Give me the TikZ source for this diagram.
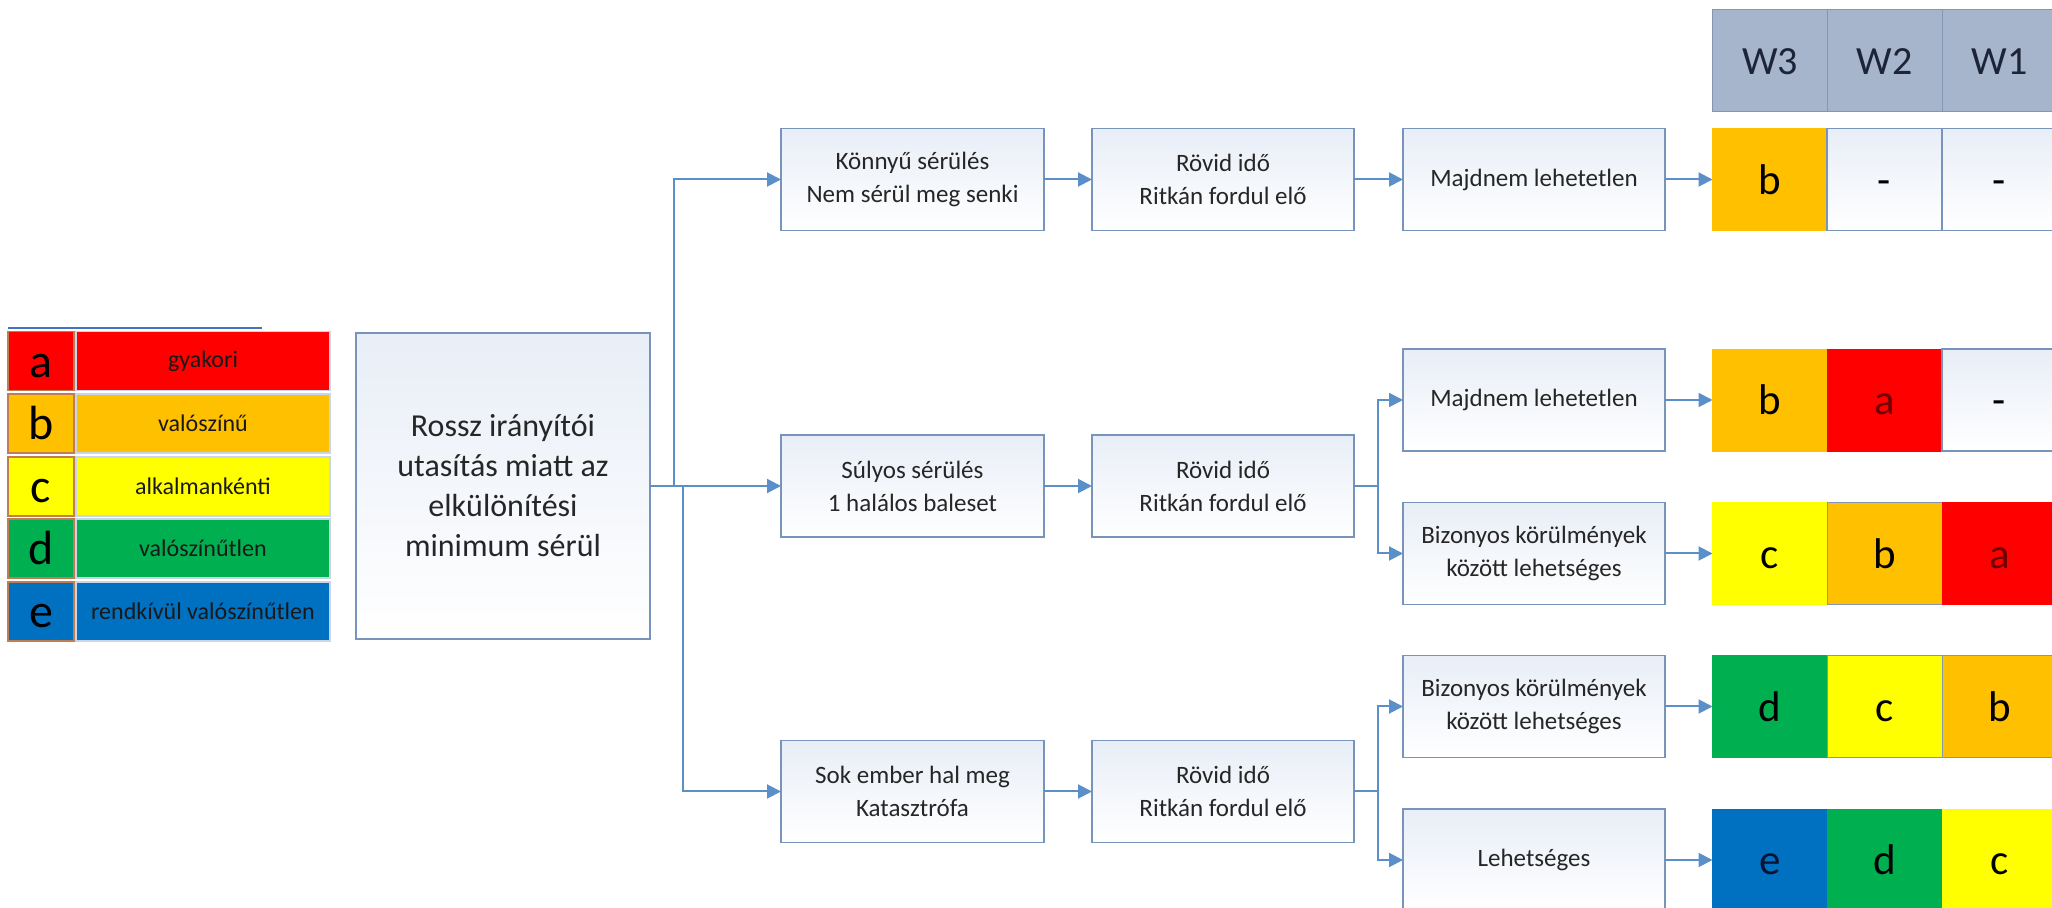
\documentclass[tikz,border=0pt]{standalone}
\usepackage{fontspec}
\setmainfont{Carlito}
\usetikzlibrary{arrows.meta,calc}
\definecolor{connc}{RGB}{91,143,201}
\definecolor{bxb}{RGB}{120,148,186}
\definecolor{bxt}{RGB}{232,238,247}
\definecolor{txt}{RGB}{38,38,38}
\definecolor{hdr}{RGB}{166,180,204}
\definecolor{hdrb}{RGB}{132,150,180}
\definecolor{cred}{RGB}{255,0,0}
\definecolor{corange}{RGB}{255,192,0}
\definecolor{cyellow}{RGB}{255,255,0}
\definecolor{cgreen}{RGB}{0,176,80}
\definecolor{cblue}{RGB}{0,112,192}
\definecolor{dred}{RGB}{110,0,0}
\definecolor{lgline}{RGB}{68,114,196}
\definecolor{lgb}{RGB}{192,124,84}
\definecolor{lgt}{RGB}{200,214,232}
\begin{document}
\begin{tikzpicture}[x=0.5pt,y=-0.5pt,
  box/.style={draw=bxb, line width=0.9pt, top color=bxt, bottom color=white,
    inner sep=0pt, outer sep=0pt, align=center, text=txt,
    minimum width=131pt, minimum height=51pt,
    font=\fontsize{12.5}{16.5}\selectfont},
  mainbox/.style={box, minimum width=147pt, minimum height=153pt,
    font=\fontsize{16}{20}\selectfont},
  conn/.style={draw=connc, line width=1pt, -{Triangle[length=7pt,width=7pt]}},
  connl/.style={draw=connc, line width=1pt},
  cell/.style={inner sep=0pt, outer sep=0pt, minimum width=57.5pt, minimum height=51pt,
    font=\fontsize{21.5}{25}\selectfont, text=black, draw=hdrb, line width=0.4pt,
    execute at begin node=\vphantom{b}},
  hcell/.style={cell, fill=hdr, font=\fontsize{20}{24}\selectfont, text={rgb,255:red,28;green,36;blue,56}},
  wcell/.style={cell, draw=bxb, line width=0.7pt, top color=bxt, bottom color=white},
  lgl/.style={inner sep=0pt, outer sep=0pt, minimum width=33pt, minimum height=29.5pt,
    draw=lgb, line width=0.6pt, font=\fontsize{24}{28}\selectfont, text=black,
    execute at begin node=\vphantom{b}},
  lgt/.style={inner sep=0pt, outer sep=0pt, minimum width=127pt, minimum height=29.5pt,
    draw=lgt, line width=0.6pt, font=\fontsize{12}{14}\selectfont, text={rgb,255:red,25;green,25;blue,25}},
]
\useasboundingbox (0,0) rectangle (2052,908);
\clip (0,0) rectangle (2052,908);

% legend
\coordinate (lgA) at (8,328);
\coordinate (lgB) at (262,328);
\draw[lgline, line width=0.6pt] (lgA) -- (lgB);
\node[lgl, fill=cred]    (la) at (41,361)   {a};
\node[lgl, fill=corange] (lb) at (41,423.5) {b};
\node[lgl, fill=cyellow] (lc) at (41,486.5) {c};
\node[lgl, fill=cgreen]  (ld) at (41,548.5) {d};
\node[lgl, fill=cblue]   (le) at (41,611.5) {e};
\node[lgt, fill=cred]    (ta) at (203,361)   {gyakori};
\node[lgt, fill=corange] (tb) at (203,423.5) {valószínű};
\node[lgt, fill=cyellow] (tc) at (203,486.5) {alkalmankénti};
\node[lgt, fill=cgreen]  (td) at (203,548.5) {valószínűtlen};
\node[lgt, fill=cblue]   (te) at (203,611.5) {rendkívül valószínűtlen};

% main box
\node[mainbox] (main) at (503,486) {Rossz irányítói\\utasítás miatt az\\elkülönítési\\minimum sérül};

% column 2
\node[box, minimum width=131.5pt] (k2) at (912.5,179.5) {Könnyű sérülés\\Nem sérül meg senki};
\node[box, minimum width=131.5pt] (s2) at (912.5,486) {Súlyos sérülés\\1 halálos baleset};
\node[box, minimum width=131.5pt] (m2) at (912.5,791.5) {Sok ember hal meg\\Katasztrófa};

% column 3
\node[box] (k3) at (1223,179.5) {Rövid idő\\Ritkán fordul elő};
\node[box] (s3) at (1223,486) {Rövid idő\\Ritkán fordul elő};
\node[box] (m3) at (1223,791.5) {Rövid idő\\Ritkán fordul elő};

% column 4
\node[box] (k4)  at (1534,179.5) {Majdnem lehetetlen};
\node[box] (s4a) at (1534,400)   {Majdnem lehetetlen};
\node[box] (s4b) at (1534,553.5) {Bizonyos körülmények\\között lehetséges};
\node[box] (m4a) at (1534,706.5) {Bizonyos körülmények\\között lehetséges};
\node[box] (m4b) at (1534,860)   {Lehetséges};

% header
\node[hcell] (h3) at (1770,60.5)   {W3};
\node[hcell] (h2) at (1884.5,60.5) {W2};
\node[hcell] (h1) at (1999.5,60.5) {W1};

% row 1
\node[cell, fill=corange, draw=corange] (r1c3) at (1770,179.5) {b};
\node[wcell] (r1c2) at (1884.5,179.5) {-};
\node[wcell] (r1c1) at (1999.5,179.5) {-};
% row 2
\node[cell, fill=corange, draw=corange] (r2c3) at (1770,400) {b};
\node[cell, fill=cred, draw=cred, text=dred] (r2c2) at (1884.5,400) {a};
\node[wcell] (r2c1) at (1999.5,400) {-};
% row 3
\node[cell, fill=cyellow, draw=cyellow] (r3c3) at (1770,553.5) {c};
\node[cell, fill=corange] (r3c2) at (1884.5,553.5) {b};
\node[cell, fill=cred, draw=cred, text=dred] (r3c1) at (1999.5,553.5) {a};
% row 4
\node[cell, fill=cgreen, draw=cgreen] (r4c3) at (1770,706.5) {d};
\node[cell, fill=cyellow] (r4c2) at (1884.5,706.5) {c};
\node[cell, fill=corange] (r4c1) at (1999.5,706.5) {b};
% row 5
\node[cell, fill=cblue, draw=cblue, text={rgb,255:red,10;green,20;blue,50}] (r5c3) at (1770,860) {e};
\node[cell, fill=cgreen, draw=cgreen] (r5c2) at (1884.5,860) {d};
\node[cell, fill=cyellow, draw=cyellow] (r5c1) at (1999.5,860) {c};

% connectors from main box
\coordinate (ja) at ($(main.east)+(24,0)$);
\coordinate (jb) at ($(main.east)+(33,0)$);
\draw[conn] (main.east) -- (s2.west);
\draw[conn] (ja) |- (k2.west);
\draw[conn] (jb) |- (m2.west);

% column 2 -> 3
\draw[conn] (k2.east) -- (k3.west);
\draw[conn] (s2.east) -- (s3.west);
\draw[conn] (m2.east) -- (m3.west);

% column 3 -> 4
\draw[conn] (k3.east) -- (k4.west);
\coordinate (jc) at ($(s3.east)+(24,0)$);
\coordinate (jd) at ($(m3.east)+(24,0)$);
\draw[connl] (s3.east) -- (jc);
\draw[conn] (jc) |- (s4a.west);
\draw[conn] (jc) |- (s4b.west);
\draw[connl] (m3.east) -- (jd);
\draw[conn] (jd) |- (m4a.west);
\draw[conn] (jd) |- (m4b.west);

% column 4 -> cells
\draw[conn] (k4.east) -- (r1c3.west);
\draw[conn] (s4a.east) -- (r2c3.west);
\draw[conn] (s4b.east) -- (r3c3.west);
\draw[conn] (m4a.east) -- (r4c3.west);
\draw[conn] (m4b.east) -- (r5c3.west);
\end{tikzpicture}
\end{document}
